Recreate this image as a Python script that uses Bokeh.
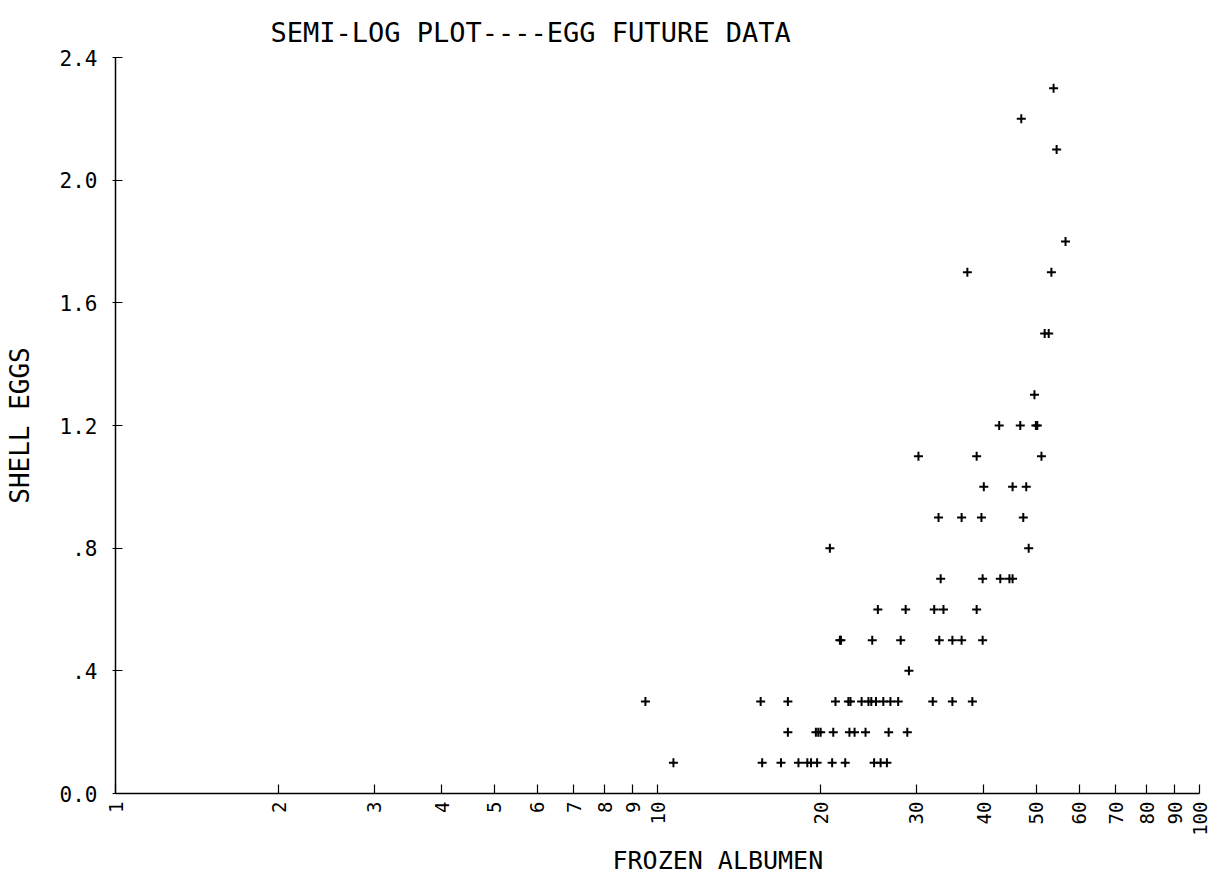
import math

from bokeh.plotting import figure
from bokeh.models import FixedTicker, PrintfTickFormatter, Title
from bokeh.embed import file_html
from bokeh.resources import INLINE

# Frozen albumen vs shell egg futures, paired observations
albumen = [
    10.7, 15.6, 16.9, 18.2, 18.9, 19.2, 19.7, 21.0, 22.2, 25.1, 25.8, 26.5,
    17.4, 19.6, 19.8, 20.0, 21.1, 22.6, 23.1, 24.2, 26.7, 28.9,
    9.5, 15.5, 17.4, 21.3, 22.5, 22.7, 23.8, 24.5, 24.8, 25.3, 26.1, 26.9, 27.8, 32.2, 35.0, 38.1,
    29.1,
    21.7, 21.8, 24.9, 28.1, 33.1, 35.0, 36.4, 39.8,
    25.5, 28.7, 32.4, 33.7, 38.8,
    33.3, 39.8, 42.9, 44.6, 45.2,
    20.8, 48.4,
    33.0, 36.4, 39.6, 47.3,
    40.0, 45.2, 47.9,
    30.3, 38.8, 51.1,
    42.7, 46.7, 49.9, 50.2,
    49.6,
    51.8, 52.7,
    37.3, 53.3,
    56.6,
    54.5,
    46.9,
    53.8,
]
shell_eggs = (
    [0.1] * 12 + [0.2] * 10 + [0.3] * 16 + [0.4] * 1 + [0.5] * 8 + [0.6] * 5
    + [0.7] * 5 + [0.8] * 2 + [0.9] * 4 + [1.0] * 3 + [1.1] * 3 + [1.2] * 4
    + [1.3] * 1 + [1.5] * 2 + [1.7] * 2 + [1.8] * 1 + [2.1] * 1 + [2.2] * 1 + [2.3] * 1
)

x_ticks = [1, 2, 3, 4, 5, 6, 7, 8, 9, 10, 20, 30, 40, 50, 60, 70, 80, 90, 100]
y_ticks = [0, 0.4, 0.8, 1.2, 1.6, 2.0, 2.4]
y_tick_labels = ["0.0", ".4", ".8", "1.2", "1.6", "2.0", "2.4"]

FONT = "DejaVu Sans Mono"

p = figure(
    width=1213, height=879,
    x_axis_type="log", x_range=(1, 100), y_range=(0, 2.4),
    output_backend="svg", toolbar_location=None,
    min_border_left=115, min_border_right=14, min_border_top=57, min_border_bottom=85,
)

p.title.text = "SEMI-LOG PLOT----EGG FUTURE DATA"
p.title.text_font = FONT
p.title.text_font_size = "27px"
p.title.text_font_style = "normal"
p.title.text_color = "black"
p.title.align = "left"
p.title.offset = 155
p.title.standoff = 20

p.grid.visible = False
p.outline_line_color = None
p.background_fill_color = "white"
p.border_fill_color = "white"

for ax in (p.xaxis[0], p.yaxis[0]):
    ax.axis_line_color = "black"
    ax.axis_line_width = 1.5
    ax.major_tick_line_color = "black"
    ax.major_tick_line_width = 1.2
    ax.minor_tick_line_color = None
    ax.major_label_text_font = FONT
    ax.major_label_text_color = "black"

xa = p.xaxis[0]
xa.ticker = FixedTicker(ticks=x_ticks, minor_ticks=[])
xa.formatter = PrintfTickFormatter(format="%d")
xa.major_tick_in = 9
xa.major_tick_out = 0
xa.major_label_orientation = math.pi / 2
xa.major_label_standoff = 8
xa.major_label_text_font_size = "19px"

ya = p.yaxis[0]
ya.ticker = FixedTicker(ticks=y_ticks, minor_ticks=[])
ya.major_label_overrides = dict(zip(y_ticks, y_tick_labels))
ya.major_tick_in = 7
ya.major_tick_out = 3
ya.major_label_standoff = 15
ya.major_label_text_font_size = "21px"
ya.axis_label = "SHELL EGGS"
ya.axis_label_text_font = FONT
ya.axis_label_text_font_size = "26px"
ya.axis_label_text_font_style = "normal"
ya.axis_label_text_color = "black"
ya.axis_label_standoff = 22

p.add_layout(
    Title(
        text="FROZEN ALBUMEN", align="left", offset=497, standoff=10,
        text_font=FONT, text_font_size="25px", text_font_style="normal",
        text_color="black",
    ),
    "below",
)

p.scatter(albumen, shell_eggs, marker="cross", size=9, line_width=2, color="black")

open("out.html", "w").write(file_html(p, INLINE))
